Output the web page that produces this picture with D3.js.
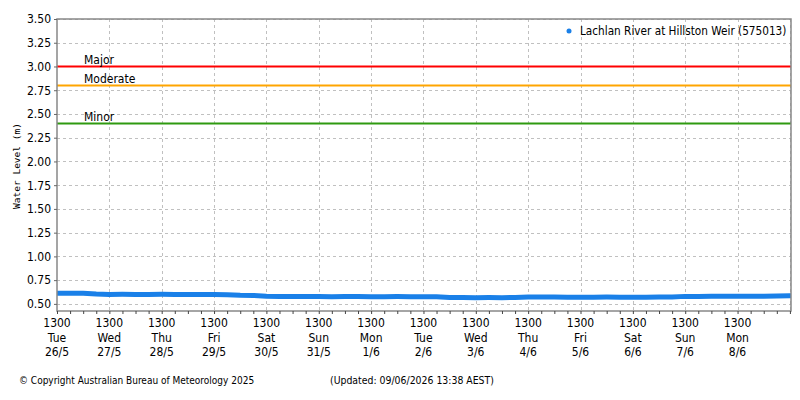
<!DOCTYPE html>
<html>
<head>
<meta charset="utf-8">
<script src="https://cdn.jsdelivr.net/npm/d3@7"></script>
<style>
  html, body { margin: 0; padding: 0; background: #fff; }
  svg text { font-family: "DejaVu Sans Condensed", "DejaVu Sans", sans-serif; font-stretch: condensed; fill: #000; }
</style>
</head>
<body>
<svg id="chart" width="800" height="400"></svg>
<script>
// ---- data ----
const startTime = "2026-05-26T13:00";
const endTime = "2026-06-09T13:30";
const lastLabelDay = "2026-06-08T13:00";
const stepHours = 6;
const waterLevels = [
  0.612, 0.612, 0.611, 0.603, 0.600, 0.601, 0.600, 0.600,
  0.601, 0.600, 0.600, 0.600, 0.600, 0.597, 0.591, 0.589,
  0.580, 0.578, 0.577, 0.577, 0.577, 0.576, 0.577, 0.577,
  0.576, 0.576, 0.577, 0.576, 0.576, 0.575, 0.568, 0.566,
  0.565, 0.566, 0.565, 0.567, 0.572, 0.573, 0.572, 0.571,
  0.571, 0.571, 0.572, 0.571, 0.571, 0.571, 0.572, 0.573,
  0.579, 0.579, 0.580, 0.580, 0.580, 0.581, 0.581, 0.584,
  0.586, 0.586
];
const thresholdNames = ["Major", "Moderate", "Minor"];
const thresholdValues = [3.00, 2.80, 2.40];
const thresholdColors = ["#ff0000", "#ffa500", "#2f9a10"];
const yTicks = [0.50, 0.75, 1.00, 1.25, 1.50, 1.75, 2.00, 2.25, 2.50, 2.75, 3.00, 3.25, 3.50];
const seriesName = "Lachlan River at Hillston Weir (575013)";
const yLabel = "Water Level (m)";
const copyright = "© Copyright Australian Bureau of Meteorology 2025";
const updated = "(Updated: 09/06/2026 13:38 AEST)";

// ---- build series ----
const parse = d3.timeParse("%Y-%m-%dT%H:%M");
const t0 = parse(startTime), t1 = parse(endTime), tLast = parse(lastLabelDay);
const series = waterLevels.map((v, i) => ({
  t: i < waterLevels.length - 1 ? d3.timeHour.offset(t0, i * stepHours) : t1,
  v
}));

// ---- layout ----
const svg = d3.select("#chart");
const m = { left: 57, top: 19, right: 791, bottom: 311 };
const x = d3.scaleTime().domain([t0, t1]).range([m.left, m.right]);
const y = d3.scaleLinear().domain([0.425, 3.5]).range([m.bottom, m.top]);

// grid
const dayTicks = d3.timeDay.range(d3.timeDay.floor(t0), t1).map(d => d3.timeHour.offset(d, 13)).filter(d => d >= t0 && d <= t1);
const labelTicks = dayTicks.filter(d => d <= tLast);
const grid = svg.append("g").attr("stroke", "#c0c0c0").attr("stroke-dasharray", "3,3").attr("stroke-width", 1);
grid.selectAll("line.h").data(yTicks).join("line")
  .attr("x1", m.left).attr("x2", m.right)
  .attr("y1", d => Math.round(y(d)) + 0.5).attr("y2", d => Math.round(y(d)) + 0.5);
grid.selectAll("line.v").data(dayTicks.slice(1)).join("line")
  .attr("x1", d => Math.round(x(d)) + 0.5).attr("x2", d => Math.round(x(d)) + 0.5)
  .attr("y1", m.top).attr("y2", m.bottom);

// thresholds
thresholdValues.forEach((v, i) => {
  svg.append("line").attr("x1", m.left).attr("x2", m.right)
    .attr("y1", y(v)).attr("y2", y(v))
    .attr("stroke", thresholdColors[i]).attr("stroke-width", 2);
  svg.append("text").attr("x", 84).attr("y", y(v) - 2)
    .attr("font-size", 12).text(thresholdNames[i]);
});

// data
svg.append("clipPath").attr("id", "clip").append("rect")
  .attr("x", m.left).attr("y", m.top).attr("width", m.right - m.left).attr("height", m.bottom - m.top);
svg.append("path").datum(series)
  .attr("clip-path", "url(#clip)")
  .attr("fill", "none").attr("stroke", "#1a80e8").attr("stroke-width", 5)
  .attr("d", d3.line().x(d => x(d.t)).y(d => y(d.v)));

// frame
svg.append("rect").attr("x", m.left).attr("y", m.top)
  .attr("width", m.right - m.left).attr("height", m.bottom - m.top)
  .attr("fill", "none").attr("stroke", "#888").attr("stroke-width", 1.5);

// y axis
const yAxis = d3.axisLeft(y).tickValues(yTicks).tickFormat(d3.format(".2f")).tickSize(3).tickPadding(3);
const gy = svg.append("g").attr("transform", `translate(${m.left},0)`).call(yAxis);
gy.select(".domain").remove();
gy.selectAll(".tick line").attr("stroke", "#666");
gy.selectAll(".tick text").attr("font-size", 12).attr("font-family", null).attr("fill", "#000");

// x axis minor ticks (6 h)
const minorTicks = d3.timeHour.range(t0, t1, 6);
const gx = svg.append("g").attr("transform", `translate(0,${m.bottom})`)
  .call(d3.axisBottom(x).tickValues(minorTicks).tickSize(3).tickFormat(""));
gx.select(".domain").remove();
gx.selectAll(".tick line").attr("stroke", "#444");

// x labels
const fmtH = d3.timeFormat("%H%M"), fmtD = d3.timeFormat("%a"), fmtDM = d => `${d.getDate()}/${d.getMonth() + 1}`;
const lab = svg.append("g").attr("font-size", 12).attr("text-anchor", "middle");
labelTicks.forEach(d => {
  const t = lab.append("text").attr("x", x(d)).attr("y", 327);
  t.append("tspan").attr("x", x(d)).attr("dy", 0).text(fmtH(d));
  t.append("tspan").attr("x", x(d)).attr("dy", 14.5).text(fmtD(d));
  t.append("tspan").attr("x", x(d)).attr("dy", 14.5).text(fmtDM(d));
});

// y label
svg.append("text").attr("transform", "translate(20,166) rotate(-90)")
  .attr("text-anchor", "middle").attr("font-size", 9.5)
  .style("font-family", "'DejaVu Sans Mono', monospace").style("font-stretch", "normal")
  .text(yLabel);

// legend
svg.append("circle").attr("cx", 569).attr("cy", 31).attr("r", 2.5).attr("fill", "#1a80e8");
svg.append("text").attr("x", 580).attr("y", 35).attr("font-size", 11.7).text(seriesName);

// footer
svg.append("text").attr("x", 19).attr("y", 384).attr("font-size", 10).text(copyright);
svg.append("text").attr("x", 330).attr("y", 384).attr("font-size", 10.4).text(updated);
</script>
</body>
</html>
